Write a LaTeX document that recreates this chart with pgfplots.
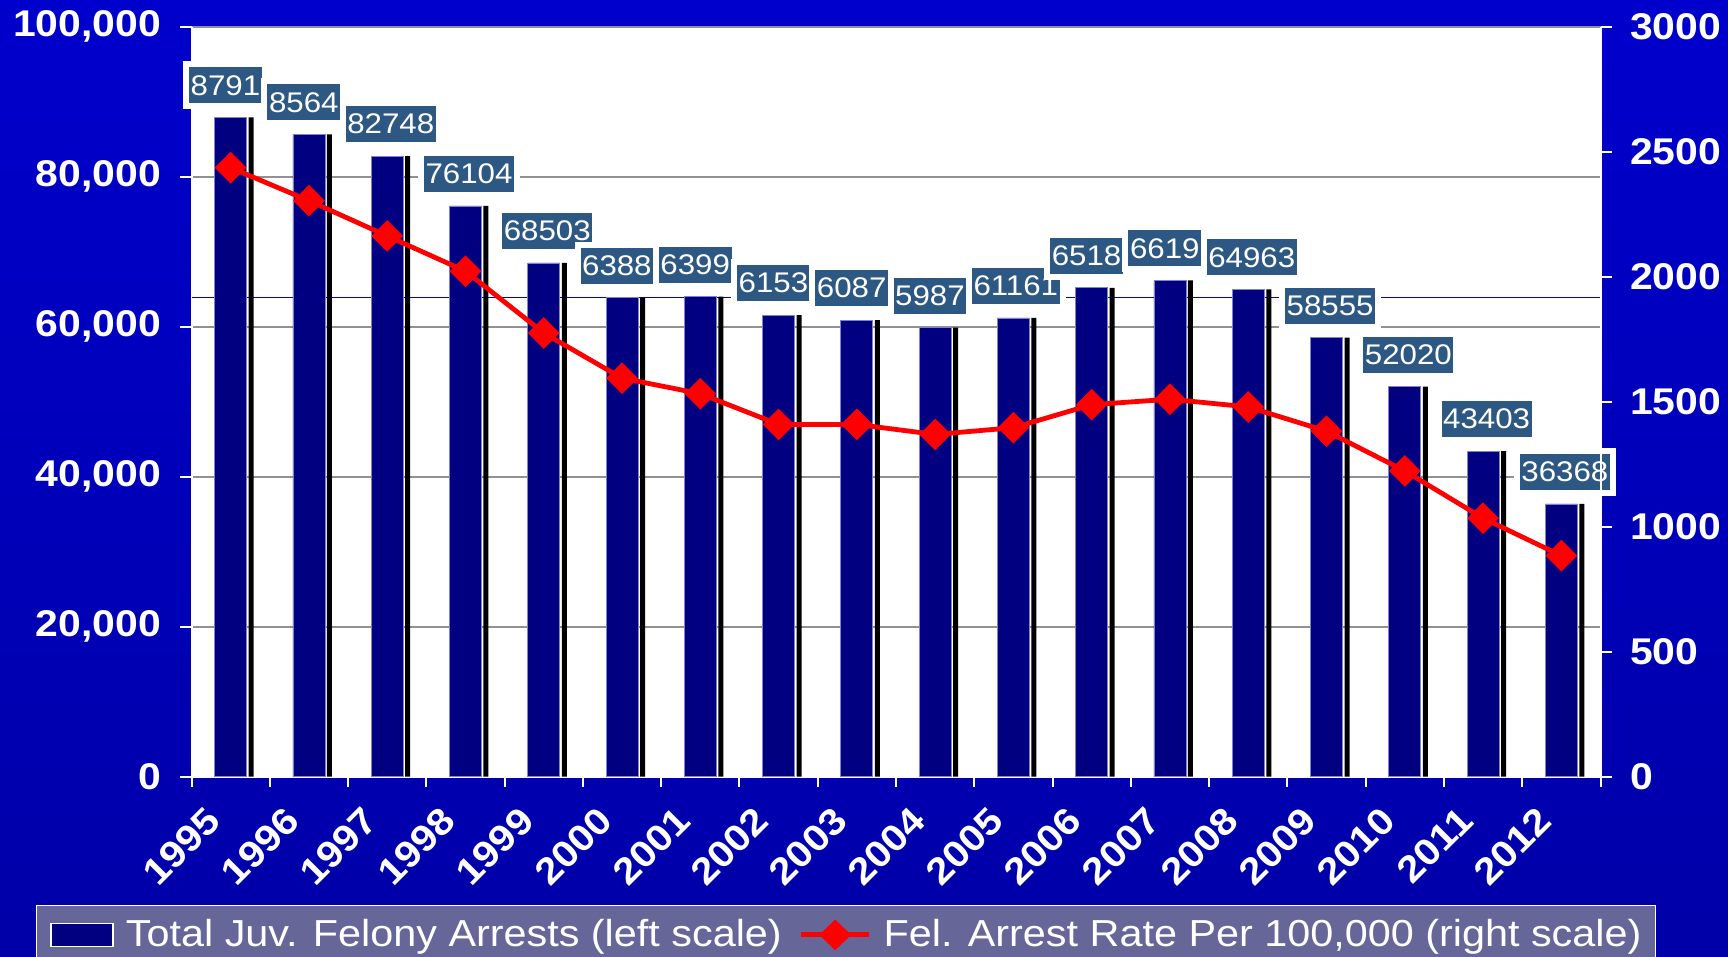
\documentclass[border=0pt]{standalone}
\usepackage{fontspec}
\setmainfont[FakeStretch=1.1]{Liberation Sans}
\usepackage{pgfplots}
\pgfplotsset{compat=1.18}
\definecolor{bg1}{RGB}{0,0,204}
\definecolor{bg2}{RGB}{0,0,168}
\definecolor{navybar}{RGB}{0,0,128}
\definecolor{barline}{RGB}{130,130,200}
\definecolor{lblbox}{RGB}{46,88,132}
\definecolor{legfill}{RGB}{102,102,153}
\definecolor{gridc}{RGB}{145,145,145}
\definecolor{refblue}{RGB}{0,0,204}
\begin{document}
\begin{tikzpicture}
\path[use as bounding box] (0,0) rectangle (864pt,478.5pt);
\shade[top color=bg1, bottom color=bg2] (0,0) rectangle (864pt,478.5pt);
\begin{axis}[
  at={(95.75pt,90.15pt)}, anchor=south west,
  scale only axis, width=704.5pt, height=375pt,
  xmin=-0.5, xmax=17.5, ymin=0, ymax=100000,
  scaled y ticks=false,
  axis background/.style={fill=white},
  axis x line*=bottom, axis y line*=left,
  axis line style={white, line width=1pt},
  ybar,
  xtick={0,1,...,17},
  xticklabels={1995,1996,1997,1998,1999,2000,2001,2002,2003,2004,2005,2006,2007,2008,2009,2010,2011,2012},
  every major x tick/.style={draw=none},
  minor xtick={-0.5,0.5,...,17.5},
  tick align=outside,
  major tick length=5.75pt, minor tick length=5pt,
  tick style={white, line width=1pt},
  ytick={0,20000,40000,60000,80000,100000},
  yticklabels={0,{20,000},{40,000},{60,000},{80,000},{100,000}},
  ymajorgrids, major grid style={gridc, line width=0.9pt},
  ticklabel style={font=\fontsize{18.6}{18.6}\selectfont\bfseries, text=white},
  yticklabel style={anchor=east, inner sep=0pt, xshift=-9.25pt},
  xticklabel style={inner sep=0pt, xshift=-13pt, yshift=-8pt, rotate=45, anchor=north east},
]
\addplot[sharp plot, refblue, line width=0.6pt, forget plot] coordinates {(-0.5,63883) (17.5,63883)};
\addplot[fill=black, draw=none, bar width=2.5pt, bar shift=10.25pt, forget plot] coordinates {
(0,87919) (1,85640) (2,82748) (3,76104) (4,68503) (5,63883) (6,63993) (7,61535) (8,60873)
(9,59877) (10,61161) (11,65189) (12,66191) (13,64963) (14,58555) (15,52020) (16,43403) (17,36368)};
\addplot[fill=navybar, draw=barline, line width=0.4pt, bar width=16pt, bar shift=0pt, forget plot,
  point meta=explicit symbolic, nodes near coords,
  every node near coord/.append style={fill=lblbox, draw=white, line width=3pt, text=white,
    font=\fontsize{14.2}{14.2}\selectfont, inner xsep=2.3pt, inner ysep=0pt, minimum height=21pt,
    anchor=south west, xshift=-23.75pt, yshift=4pt}] coordinates {
(0,87919)[8791] (1,85640)[8564] (2,82748)[82748] (3,76104)[76104] (4,68503)[68503]
(5,63883)[6388] (6,63993)[6399] (7,61535)[6153] (8,60873)[6087] (9,59877)[5987]
(10,61161)[61161] (11,65189)[6518] (12,66191)[6619] (13,64963)[64963] (14,58555)[58555]
(15,52020)[52020] (16,43403)[43403] (17,36368)[36368]};
\end{axis}
\begin{axis}[
  at={(95.75pt,90.15pt)}, anchor=south west,
  scale only axis, width=704.5pt, height=375pt,
  xmin=-0.5, xmax=17.5, ymin=0, ymax=3000,
  axis y line*=right, axis x line=none,
  axis line style={white, line width=1pt},
  ytick={0,500,1000,1500,2000,2500,3000},
  yticklabels={0,500,1000,1500,2000,2500,3000},
  tick align=outside, major tick length=5.75pt,
  tick style={white, line width=1pt},
  ticklabel style={font=\fontsize{18.6}{18.6}\selectfont\bfseries, text=white},
  yticklabel style={anchor=west, inner sep=0pt, xshift=8.9pt},
  legend style={at={(-0.11057,-0.17107)}, anchor=north west, fill=legfill, draw=white,
    line width=0.75pt, text=white, font=\fontsize{18.8}{18.8}\selectfont,
    inner xsep=7pt, inner ysep=7pt, legend columns=-1, column sep=6pt,
    /tikz/every even column/.append style={column sep=8.5pt}, nodes={inner sep=0pt}},
]
\addlegendimage{legend image code/.code={\draw[fill=navybar, draw=white, line width=0.75pt] (0pt,-5.75pt) rectangle (31pt,5.75pt);}}
\addlegendentry{Total Juv. Felony Arrests (left scale)}
\addplot[red, line width=2.4pt, mark=square*, mark size=4.4pt, mark options={rotate=45, solid},
  legend image code/.code={\draw[red, line width=2.4pt] (0pt,0pt) -- (34pt,0pt);
    \fill[red] (17pt,6pt) -- (23.25pt,0pt) -- (17pt,-6pt) -- (10.75pt,0pt) -- cycle;}]
  coordinates {
(0,2436) (1,2304) (2,2163) (3,2022) (4,1775) (5,1594) (6,1532) (7,1409) (8,1409)
(9,1369) (10,1396) (11,1488) (12,1510) (13,1479) (14,1382) (15,1223) (16,1034) (17,884)};
\addlegendentry{Fel. Arrest Rate Per 100,000 (right scale)}
\end{axis}
\end{tikzpicture}
\end{document}
